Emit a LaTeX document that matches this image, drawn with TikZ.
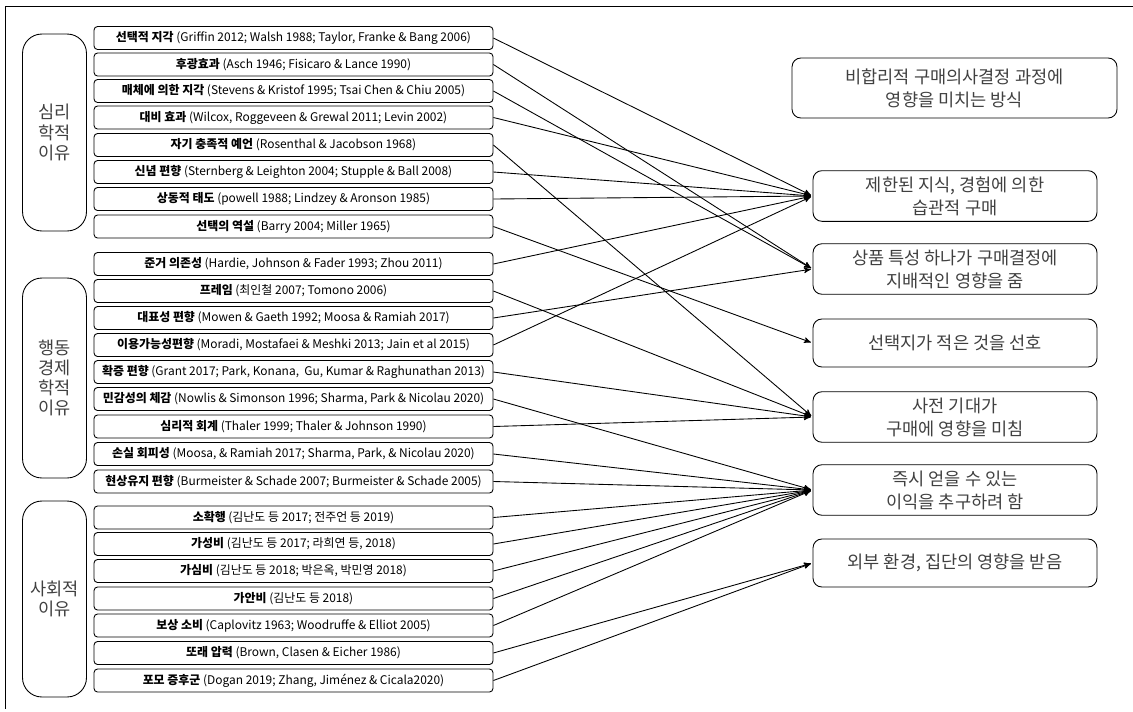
\documentclass[tikz,border=0pt]{standalone}
\usepackage{fontspec}
\setmainfont{Noto Sans CJK KR}
\usepackage{tikz}
\usetikzlibrary{arrows}

\begin{document}
\begin{tikzpicture}[x=0.02cm, y=-0.02cm, ->, >=stealth', shorten >=1pt, line width=0.5pt,
    factor/.style={draw, -, rounded corners=2pt, minimum width=7.98cm, minimum height=0.46cm, inner sep=0pt, font=\fontsize{6.8}{8}\selectfont},
    group/.style={draw, -, rounded corners=11pt, minimum width=1.28cm, align=center, text=black!75, font=\fontsize{10}{11.5}\selectfont},
    effect/.style={draw, -, rounded corners=5pt, minimum width=5.68cm, minimum height=0.96cm, align=center, text=black!75, font=\fontsize{10}{13}\selectfont}]
    \useasboundingbox (0, 0) rectangle (1133, 711);
    \draw[-] (1133, 6) -- (5, 6) -- (5, 711);

    \node[group, minimum height=3.94cm] at (54.5, 132.5) (group1) {심리\\학적\\이유};
    \node[group, minimum height=4cm] at (54.5, 378) (group2) {행동\\경제\\학적\\이유};
    \node[group, minimum height=3.92cm] at (54.5, 599) (group3) {사회적\\이유};

    \node[factor] at (293.5, 38) (factor1) {\textbf{선택적 지각} (Griffin 2012; Walsh 1988; Taylor, Franke \& Bang 2006)};
    \node[factor] at (293.5, 64.5) (factor2) {\textbf{후광효과} (Asch 1946; Fisicaro \& Lance 1990)};
    \node[factor] at (293.5, 91) (factor3) {\textbf{매체에 의한 지각} (Stevens \& Kristof 1995; Tsai Chen \& Chiu 2005)};
    \node[factor] at (293.5, 117.5) (factor4) {\textbf{대비 효과} (Wilcox, Roggeveen \& Grewal 2011; Levin 2002)};
    \node[factor] at (293.5, 145) (factor5) {\textbf{자기 충족적 예언} (Rosenthal \& Jacobson 1968)};
    \node[factor] at (293.5, 172) (factor6) {\textbf{신념 편향} (Sternberg \& Leighton 2004; Stupple \& Ball 2008)};
    \node[factor] at (293.5, 199) (factor7) {\textbf{상동적 태도} (powell 1988; Lindzey \& Aronson 1985)};
    \node[factor] at (293.5, 226.5) (factor8) {\textbf{선택의 역설} (Barry 2004; Miller 1965)};

    \node[factor] at (293.5, 264) (factor9) {\textbf{준거 의존성} (Hardie, Johnson \& Fader 1993; Zhou 2011)};
    \node[factor] at (293.5, 291) (factor10) {\textbf{프레임} (최인철 2007; Tomono 2006)};
    \node[factor] at (293.5, 318) (factor11) {\textbf{대표성 편향} (Mowen \& Gaeth 1992; Moosa \& Ramiah 2017)};
    \node[factor] at (293.5, 345) (factor12) {\textbf{이용가능성편향} (Moradi, Mostafaei \& Meshki 2013; Jain et al 2015)};
    \node[factor] at (293.5, 372) (factor13) {\textbf{확증 편향} (Grant 2017; Park, Konana,~ Gu, Kumar \& Raghunathan 2013)};
    \node[factor] at (293.5, 399) (factor14) {\textbf{민감성의 체감} (Nowlis \& Simonson 1996; Sharma, Park \& Nicolau 2020)};
    \node[factor] at (293.5, 426.5) (factor15) {\textbf{심리적 회계} (Thaler 1999; Thaler \& Johnson 1990)};
    \node[factor] at (293.5, 454) (factor16) {\textbf{손실 회피성} (Moosa, \& Ramiah 2017; Sharma, Park, \& Nicolau 2020)};
    \node[factor] at (293.5, 481.5) (factor17) {\textbf{현상유지 편향} (Burmeister \& Schade 2007; Burmeister \& Schade 2005)};

    \node[factor] at (293.5, 517.5) (factor18) {\textbf{소확행} (김난도 등 2017; 전주언 등 2019)};
    \node[factor] at (293.5, 544) (factor19) {\textbf{가성비} (김난도 등 2017; 라희연 등, 2018)};
    \node[factor] at (293.5, 571) (factor20) {\textbf{가심비} (김난도 등 2018; 박은옥, 박민영 2018)};
    \node[factor] at (293.5, 598.5) (factor21) {\textbf{가안비} (김난도 등 2018)};
    \node[factor] at (293.5, 625.5) (factor22) {\textbf{보상 소비} (Caplovitz 1963; Woodruffe \& Elliot 2005)};
    \node[factor] at (293.5, 653) (factor23) {\textbf{또래 압력} (Brown, Clasen \& Eicher 1986)};
    \node[factor] at (293.5, 680.5) (factor24) {\textbf{포모 증후군} (Dogan 2019; Zhang, Jiménez \& Cicala2020)};

    \node[effect, minimum width=6.5cm, minimum height=1.2cm] at (954.5, 88) (effecthead) {비합리적 구매의사결정 과정에\\영향을 미치는 방식};
    \node[effect] at (955, 196) (effect1) {제한된 지식, 경험에 의한\\습관적 구매};
    \node[effect] at (955, 269) (effect2) {상품 특성 하나가 구매결정에\\지배적인 영향을 줌};
    \node[effect] at (955, 343) (effect3) {선택지가 적은 것을 선호};
    \node[effect] at (955, 417) (effect4) {사전 기대가\\구매에 영향을 미침};
    \node[effect] at (955, 490) (effect5) {즉시 얻을 수 있는\\이익을 추구하려 함};
    \node[effect] at (955, 563) (effect6) {외부 환경, 집단의 영향을 받음};

    \draw (factor1.east) -- (effect1.west);
    \draw (factor2.east) -- (effect2.west);
    \draw (factor3.east) -- (effect2.west);
    \draw (factor4.east) -- (effect1.west);
    \draw (factor5.east) -- (effect4.west);
    \draw (factor6.east) -- (effect1.west);
    \draw (factor7.east) -- (effect1.west);
    \draw (factor8.east) -- (effect3.west);
    \draw (factor9.east) -- (effect1.west);
    \draw (factor10.east) -- (effect4.west);
    \draw (factor11.east) -- (effect2.west);
    \draw (factor12.east) -- (effect1.west);
    \draw (factor13.east) -- (effect4.west);
    \draw (factor14.east) -- (effect5.west);
    \draw (factor15.east) -- (effect4.west);
    \draw (factor16.east) -- (effect5.west);
    \draw (factor17.east) -- (effect5.west);
    \draw (factor18.east) -- (effect5.west);
    \draw (factor19.east) -- (effect5.west);
    \draw (factor20.east) -- (effect5.west);
    \draw (factor21.east) -- (effect5.west);
    \draw (factor22.east) -- (effect5.west);
    \draw (factor23.east) -- (effect6.west);
    \draw (factor24.east) -- (effect6.west);
  \end{tikzpicture}
\end{document}
